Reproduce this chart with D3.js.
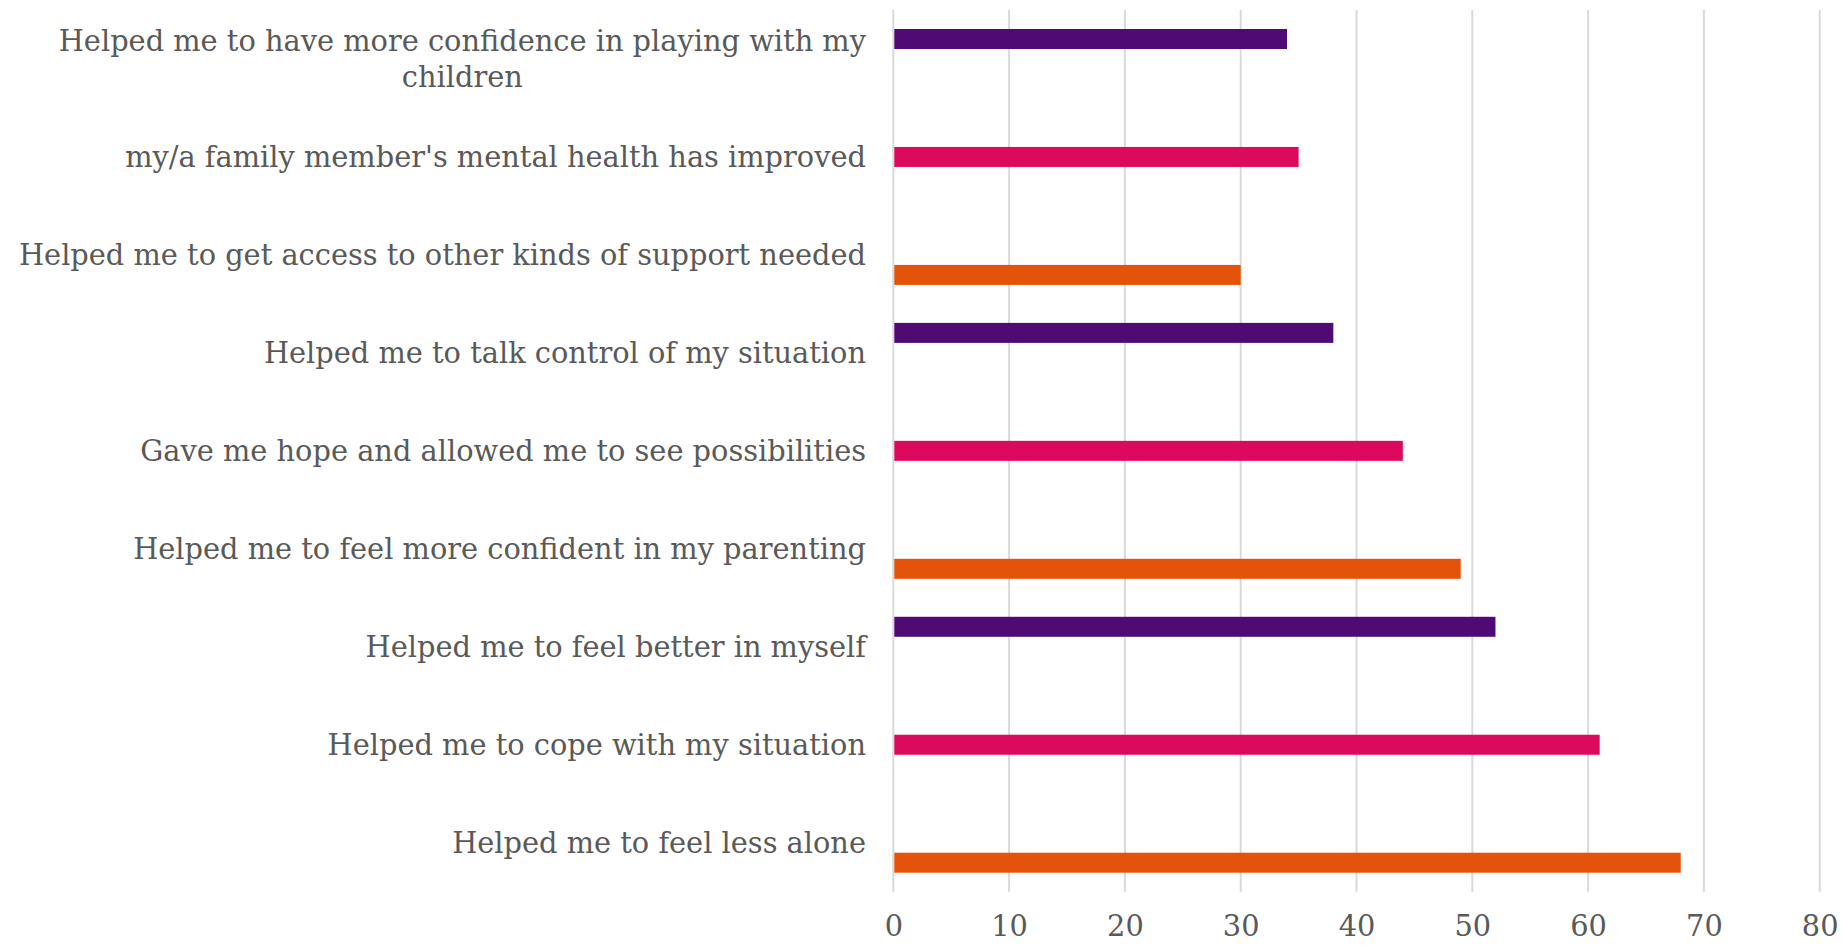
<!DOCTYPE html>
<html>
<head>
<meta charset="utf-8">
<script src="https://cdn.jsdelivr.net/npm/d3@7"></script>
<style>
  html, body { margin: 0; padding: 0; background: #fff; overflow: hidden; }
  text { font-family: "DejaVu Serif", "Liberation Serif", serif; fill: #595959; }
</style>
</head>
<body>
<div id="chart"></div>
<script>
"use strict";

// categories, top to bottom as drawn
const categories = [
    "Helped me to have more confidence in playing with my children",
    "my/a family member's mental health has improved",
    "Helped me to get access to other kinds of support needed",
    "Helped me to talk control of my situation",
    "Gave me hope and allowed me to see possibilities",
    "Helped me to feel more confident in my parenting",
    "Helped me to feel better in myself",
    "Helped me to cope with my situation",
    "Helped me to feel less alone"
];
const values = [34, 35, 30, 38, 44, 49, 52, 61, 68];
const seriesOf = ["Series 3", "Series 2", "Series 1",
                  "Series 3", "Series 2", "Series 1",
                  "Series 3", "Series 2", "Series 1"];
const seriesNames = ["Series 3", "Series 2", "Series 1"]; // top slot to bottom slot
const seriesColors = ["#500a74", "#dc0a5c", "#e3530a"];
const xTicks = [0, 10, 20, 30, 40, 50, 60, 70, 80];

const W = 1841, H = 945;
const plot = { left: 893.3, right: 1819.7, top: 10, bottom: 891.7 };

const svg = d3.select("#chart").append("svg")
              .attr("width", W)
              .attr("height", H);

const xScale = d3.scaleLinear()
                 .domain([0, 80])
                 .range([plot.left, plot.right]);
const yScale = d3.scaleBand()
                 .domain(categories)
                 .range([plot.top, plot.bottom])
                 .padding(0);
const slotScale = d3.scaleBand()
                    .domain(seriesNames)
                    .range([0, yScale.bandwidth()])
                    .paddingInner(0)
                    .paddingOuter(0.95);
const colorScale = d3.scaleOrdinal(seriesNames, seriesColors);

// font size fitted so the label widths follow the reference
const probe = svg.append("text").attr("font-size", 30).text("Helped me to feel less alone");
const fontSize = 30 * 414 / probe.node().getComputedTextLength();
probe.remove();

// gridlines
svg.append("g")
   .selectAll("line")
   .data(xTicks)
   .join("line")
   .attr("x1", d => xScale(d))
   .attr("x2", d => xScale(d))
   .attr("y1", plot.top)
   .attr("y2", plot.bottom)
   .attr("stroke", "#d9d9d9")
   .attr("stroke-width", 2);

// bars
svg.append("g")
   .selectAll("rect")
   .data(categories.map((c, i) => ({ cat: c, value: values[i], series: seriesOf[i] })))
   .join("rect")
   .attr("x", xScale(0) + 1)
   .attr("y", d => yScale(d.cat) + slotScale(d.series))
   .attr("width", d => xScale(d.value) - xScale(0) - 1)
   .attr("height", slotScale.bandwidth())
   .attr("fill", d => colorScale(d.series));

// x tick labels
const xAxis = svg.append("g")
                 .attr("transform", `translate(0, ${plot.bottom})`)
                 .call(d3.axisBottom(xScale).tickValues(xTicks).tickSize(0).tickPadding(24));
xAxis.select(".domain").remove();
xAxis.selectAll("text")
     .attr("font-size", fontSize)
     .attr("font-family", null)
     .attr("fill", "#595959");

// category labels, wrapped and centred within a right-aligned block
const labelRight = 866;
const labelGroup = svg.append("g");
const measure = svg.append("text").attr("font-size", fontSize);
const textWidth = s => { measure.text(s); return measure.node().getComputedTextLength(); };
const maxWidth = textWidth("Helped me to get access to other kinds of support needed") + 10;

categories.forEach(cat => {
    const words = cat.split(" ");
    const lines = [];
    let line = [];
    words.forEach(w => {
        const next = line.concat(w).join(" ");
        if (line.length && textWidth(next) > maxWidth) {
            lines.push(line.join(" "));
            line = [w];
        } else {
            line.push(w);
        }
    });
    lines.push(line.join(" "));
    const blockWidth = d3.max(lines, textWidth);
    const cx = labelRight - blockWidth / 2;
    const cy = yScale(cat) + yScale.bandwidth() / 2;
    const lineH = fontSize * 1.27;
    lines.forEach((l, j) => {
        labelGroup.append("text")
                  .attr("x", cx)
                  .attr("y", cy + (j - (lines.length - 1) / 2) * lineH)
                  .attr("dy", "0.35em")
                  .attr("text-anchor", "middle")
                  .attr("font-size", fontSize)
                  .text(l);
    });
});
measure.remove();
</script>
</body>
</html>
